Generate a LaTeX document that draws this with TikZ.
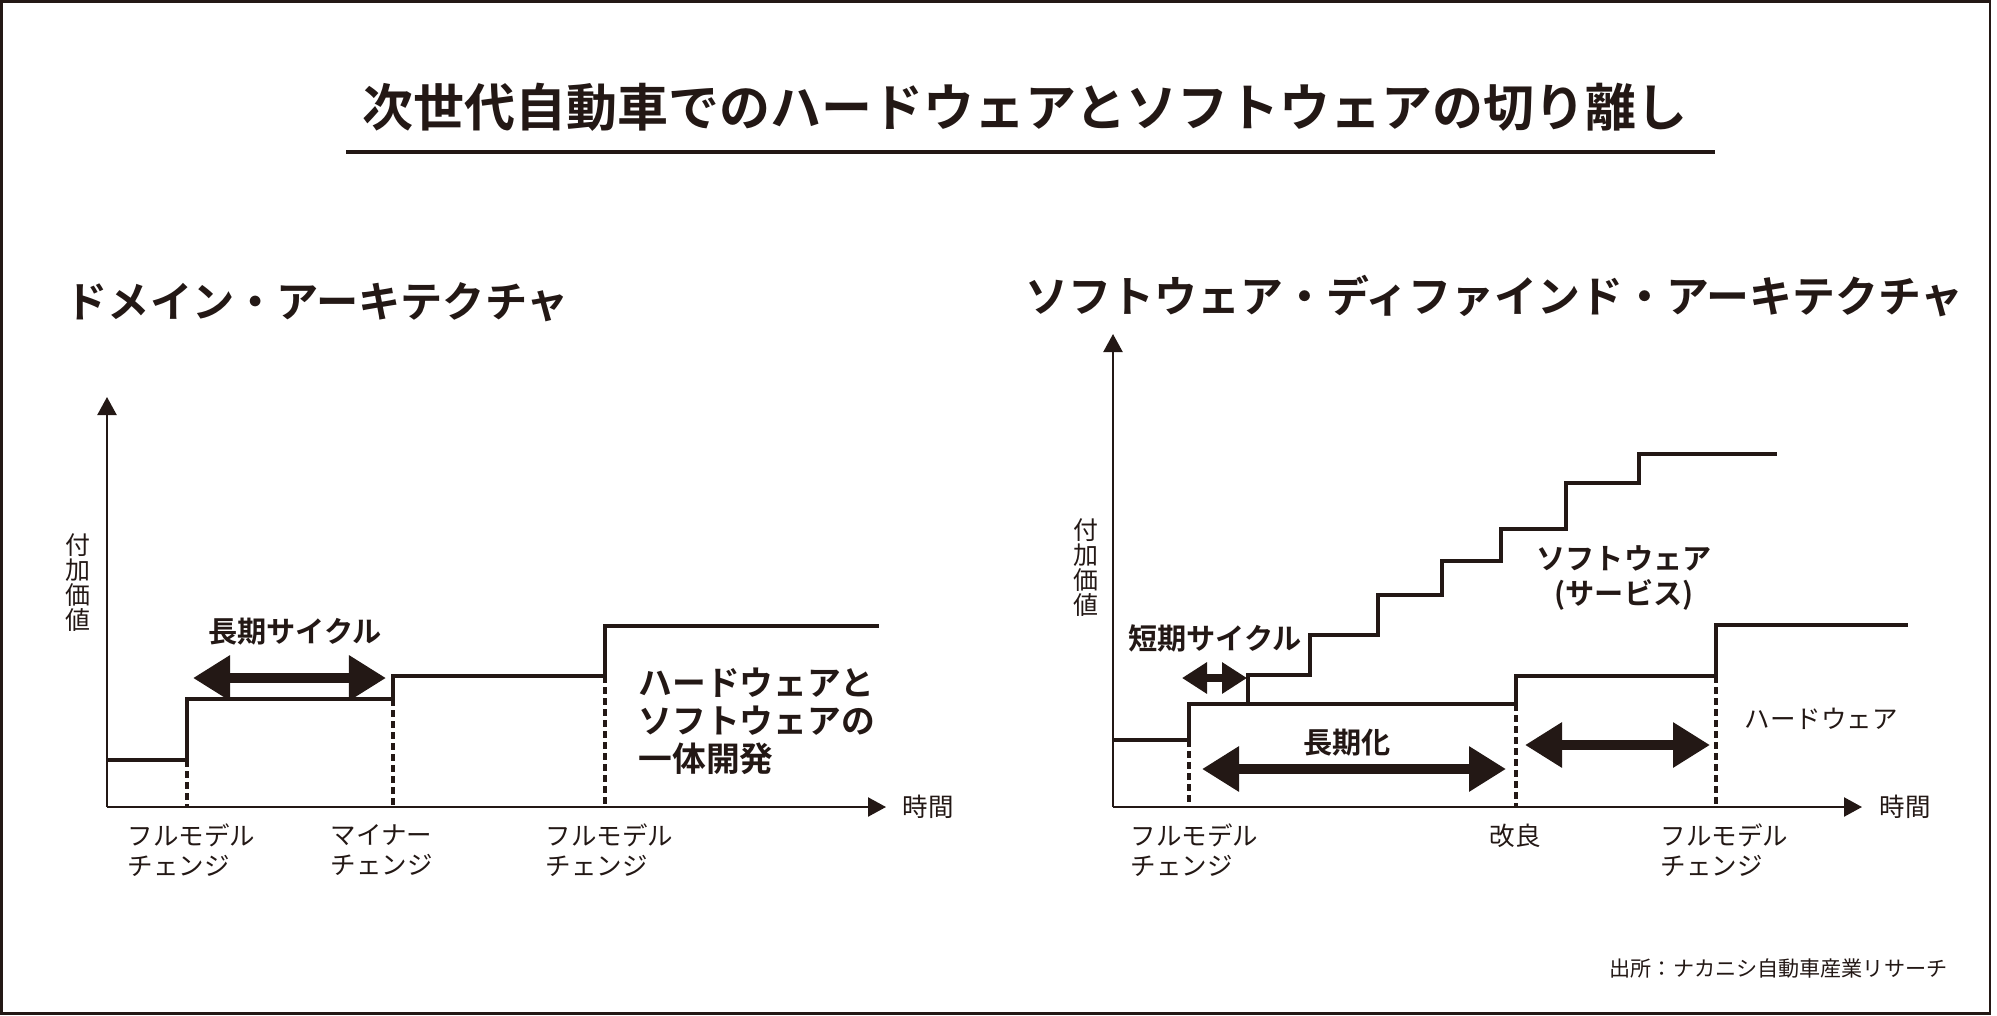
\documentclass[tikz,border=0pt]{standalone}
\usepackage{fontspec}
\setmainfont{Noto Sans CJK JP}[BoldFont={Noto Sans CJK JP Bold}]
\usepackage{xcolor}
\usepackage{tikz}
\usetikzlibrary{positioning,arrows.meta}
\definecolor{ink}{HTML}{231815}

\begin{document}
\begin{tikzpicture}[x=0.01cm, y=-0.01cm, every node/.style={inner sep=0pt, text=ink},
  ttl/.style={font=\bfseries\fontsize{14.5}{17}\selectfont},
  hd/.style={font=\bfseries\fontsize{12}{14}\selectfont},
  note/.style={font=\bfseries\fontsize{8.3}{10}\selectfont, align=center},
  bignote/.style={font=\bfseries\fontsize{9.6}{10.8}\selectfont, align=left},
  lbl/.style={font=\fontsize{7.25}{8.5}\selectfont, align=left},
  vlbl/.style={font=\fontsize{7.1}{7.1}\selectfont, align=center},
  axis/.style={draw=ink, line width=0.65pt, -{Triangle[length=0.18cm, width=0.19cm]}},
  stepline/.style={draw=ink, line width=1.15pt},
  guide/.style={draw=ink, line width=0.95pt, dash pattern=on 0.07cm off 0.04cm},
  bigarrow/.style={draw=ink, line width=2.9pt, {Triangle[length=0.37cm, width=0.43cm]}-{Triangle[length=0.37cm, width=0.43cm]}},
  smallarrow/.style={draw=ink, line width=2pt, {Triangle[length=0.25cm, width=0.30cm]}-{Triangle[length=0.25cm, width=0.30cm]}}]
  \useasboundingbox (0,0) rectangle (1997,1015);
  \draw[ink, line width=0.6pt] (1.5,1.5) rectangle (1990,1013.5);

  \node[ttl] (title) at (1025,107) {次世代自動車でのハードウェアとソフトウェアの切り離し};
  \draw[ink, line width=1.4pt] (346,152) -- (1715,152);

  \node[hd, anchor=west] (lhead) at (65,302) {ドメイン・アーキテクチャ};
  \node[hd, anchor=west, font=\bfseries\fontsize{12.2}{14}\selectfont] (rhead) at (1025,296) {ソフトウェア・ディファインド・アーキテクチャ};

  \coordinate (lo) at (107,807);
  \coordinate (ly) at (107,397);
  \coordinate (lx) at (886,807);
  \draw[axis] (lo) -- (ly);
  \draw[axis] (lo) -- (lx);
  \node[lbl, anchor=west, right=0.16cm of lx] (ltime) {時間};
  \node[vlbl] (lval) at (78,583) {付\\加\\価\\値};

  \draw[stepline] (107,760) -- (187,760) -- (187,699) -- (393,699) -- (393,676) -- (605,676) -- (605,626) -- (879,626);
  \draw[guide] (187,760) -- (187,807);
  \draw[guide] (393,699) -- (393,807);
  \draw[guide] (605,676) -- (605,807);

  \coordinate (lcyc1) at (193,678);
  \coordinate (lcyc2) at (386,678);
  \draw[bigarrow] (lcyc1) -- (lcyc2);
  \node[note] (lcyc) at (295,632) {長期サイクル};
  \node[bignote, anchor=west] (joint) at (638,721) {ハードウェアと\\ソフトウェアの\\一体開発};

  \node[lbl, anchor=west] (lfmc1) at (127,850) {フルモデル\\チェンジ};
  \node[lbl, anchor=west] (lminor) at (330,850) {マイナー\\チェンジ};
  \node[lbl, anchor=west] (lfmc2) at (545,850) {フルモデル\\チェンジ};

  \coordinate (ro) at (1113,807);
  \coordinate (ry) at (1113,334);
  \coordinate (rx) at (1862,807);
  \draw[axis] (ro) -- (ry);
  \draw[axis] (ro) -- (rx);
  \node[lbl, anchor=west, right=0.17cm of rx] (rtime) {時間};
  \node[vlbl] (rval) at (1086,568) {付\\加\\価\\値};

  \draw[stepline] (1113,740) -- (1189,740) -- (1189,704) -- (1516,704) -- (1516,676) -- (1716,676) -- (1716,625) -- (1908,625);
  \draw[stepline] (1248,704) -- (1248,675) -- (1310,675) -- (1310,635) -- (1378,635) -- (1378,595) -- (1442,595) -- (1442,561) -- (1501,561) -- (1501,529) -- (1566,529) -- (1566,483) -- (1639,483) -- (1639,454) -- (1777,454);
  \draw[guide] (1189,740) -- (1189,807);
  \draw[guide] (1516,704) -- (1516,807);
  \draw[guide] (1716,676) -- (1716,807);

  \coordinate (rshort1) at (1182,678);
  \coordinate (rshort2) at (1247,678);
  \draw[smallarrow] (rshort1) -- (rshort2);
  \node[note] (rshort) at (1215,638) {短期サイクル};

  \coordinate (rlong1) at (1202,769);
  \coordinate (rlong2) at (1506,769);
  \draw[bigarrow] (rlong1) -- (rlong2);
  \node[note] (rlong) at (1347,743) {長期化};

  \coordinate (rimp1) at (1525,745);
  \coordinate (rimp2) at (1710,745);
  \draw[bigarrow] (rimp1) -- (rimp2);

  \node[note] (rsoft) at (1624,578) {ソフトウェア\\(サービス)};
  \node[lbl] (rhard) at (1821,719) {ハードウェア};

  \node[lbl, anchor=west] (rfmc1) at (1130,850) {フルモデル\\チェンジ};
  \node[lbl] (rimp) at (1515,836) {改良};
  \node[lbl, anchor=west] (rfmc2) at (1660,850) {フルモデル\\チェンジ};

  \node[font=\fontsize{6}{7}\selectfont, anchor=west] (src) at (1609,968) {出所：ナカニシ自動車産業リサーチ};
\end{tikzpicture}
\end{document}
